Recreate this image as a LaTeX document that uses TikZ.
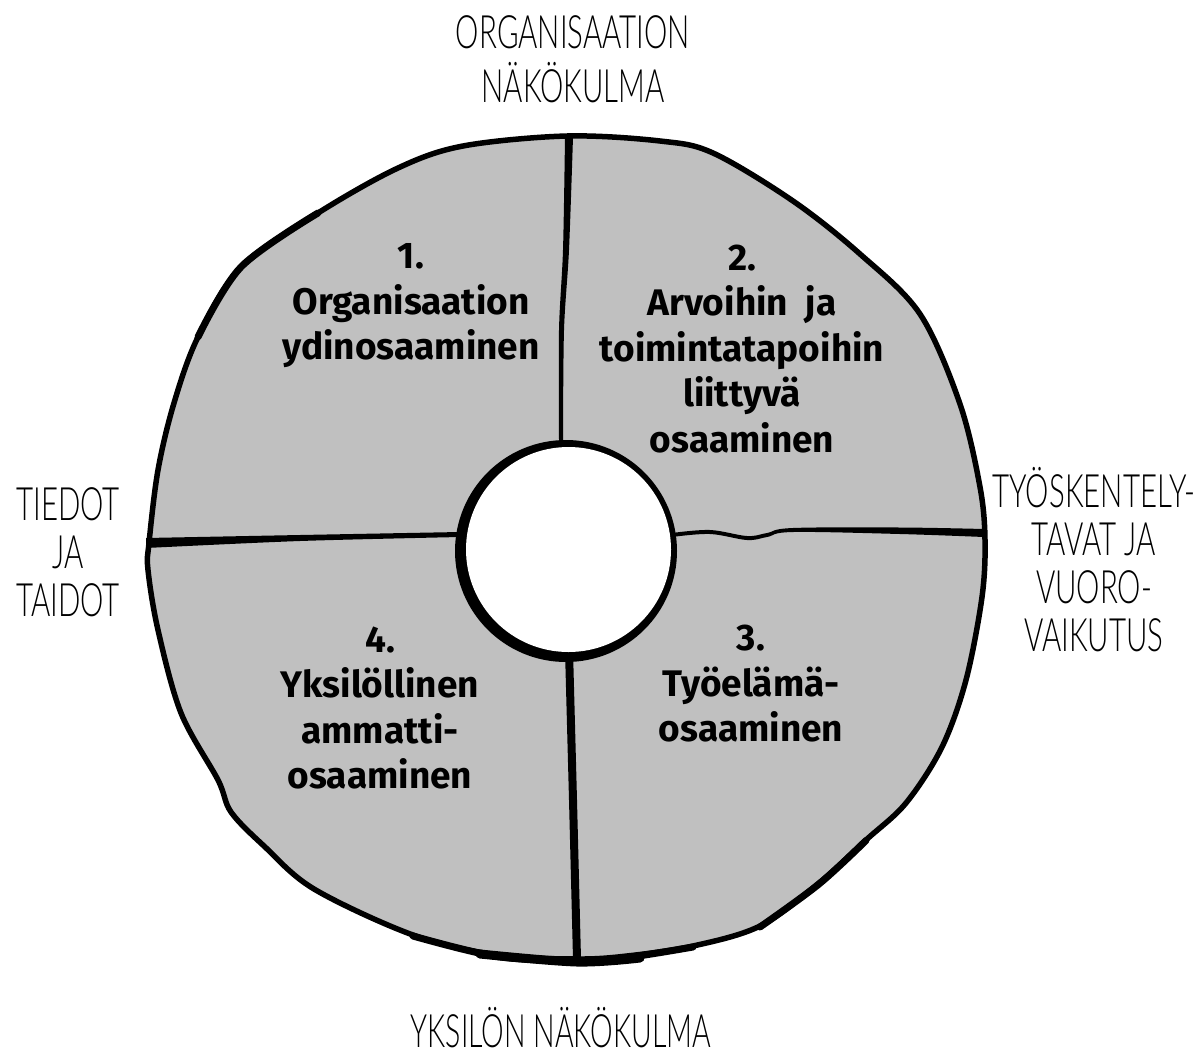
\documentclass[tikz,border=0pt]{standalone}
\usepackage{fontspec}
\setmainfont{Fira Sans}
\IfFontExistsTF{Lato Light}{\newfontfamily\lblfont{Lato Light}}{\newfontfamily\lblfont{Liberation Sans}}
\definecolor{ringgray}{RGB}{192,192,192}
\newcommand\outlbl[1]{\scalebox{0.64}[1]{\lblfont\fontsize{46}{48}\selectfont\begin{tabular}{@{}c@{}}#1\end{tabular}}}
\newcommand\outlblone[1]{\scalebox{0.62}[1]{\lblfont\fontsize{46}{48}\selectfont #1}}
\tikzset{
  quadtext/.style={align=center, font=\bfseries\fontsize{37}{45.5}\selectfont, inner sep=0pt},
  outertext/.style={inner sep=0pt},
  heavyedge/.style={line width=#1, line cap=round, line join=round},
}
\begin{document}
\begin{tikzpicture}[x=1pt,y=-1pt]
\useasboundingbox (0,0) rectangle (1199,1055);
% outer ring
\filldraw[fill=ringgray, draw=black, line width=5.5pt, line join=round]
  plot[smooth cycle, tension=0.55] coordinates {
  (567,136) (660,141) (713,153) (793,201) (860,254) (920,314) (960,404) (980,487)
  (985,540) (982,597) (966,680) (942,747) (906,803) (866,840) (819,883) (760,926)
  (693,946) (627,956) (577,959) (497,955) (413,935) (314,889) (264,846) (231,812)
  (218,780) (181,713) (158,630) (148,570) (149,543) (158,470) (174,403) (198,337)
  (241,267) (318,213) (398,168) (463,146)};
% heavier parts of the outline
\draw[heavyedge=7pt] plot[smooth, tension=0.55] coordinates {(413,936) (497,956.5) (577,960.5) (627,957.5) (693,947)};
\draw[heavyedge=9pt] plot[smooth, tension=0.55] coordinates {(480,954) (577,962) (640,958)};
\draw[heavyedge=7pt] plot[smooth, tension=0.55] coordinates {(866,840.5) (819,884) (760,927)};
\draw[heavyedge=7pt] plot[smooth, tension=0.55] coordinates {(198,337) (241,267) (318,213)};
% dividers
\fill plot[smooth] coordinates {(565,137) (563,250) (559,330) (559,440)}
  -- plot[smooth] coordinates {(563,440) (564,330) (569,250) (573,137)} -- cycle;
\fill plot[smooth] coordinates {(146,538) (300,535) (460,532)}
  -- plot[smooth] coordinates {(460,537) (300,541) (146,548)} -- cycle;
\fill plot[smooth, tension=0.6] coordinates {(672,533) (710,530) (747,536) (767,533) (793,528) (900,527.5) (984,529)}
  -- plot[smooth, tension=0.6] coordinates {(984,537) (900,534) (793,532) (767,537) (747,540) (710,534) (672,537)} -- cycle;
\draw[line width=8pt] (569,650) -- (573,800) -- (577,959);
% inner hole with heavier left side
\fill[black] (566,551) circle[radius=111];
\fill[white] (568.5,549.5) circle[radius=102.5];
% quadrant texts
\node[quadtext] (q1) at (411,306) {1.\\Organisaation\\ydinosaaminen};
\node[quadtext] (q2) at (742,349) {2.\\Arvoihin\ \ ja\\toimintatapoihin\\liittyvä\\osaaminen};
\node[quadtext] (q3) at (751,684) {3.\\Työelämä-\\osaaminen};
\node[quadtext] (q4) at (380,708) {4.\\Yksilöllinen\\ammatti-\\osaaminen};
% outer labels
\node[outertext] (top) at (573,66) {\outlbl{ORGANISAATION\\NÄKÖKULMA}};
\node[outertext] (left) at (68,559) {\outlbl{TIEDOT\\JA\\TAIDOT}};
\node[outertext] (right) at (1094,567) {\outlbl{TYÖSKENTELY-\\TAVAT JA\\VUORO-\\VAIKUTUS}};
\node[outertext] (bottom) at (561,1028) {\outlblone{YKSILÖN NÄKÖKULMA}};
\end{tikzpicture}
\end{document}
